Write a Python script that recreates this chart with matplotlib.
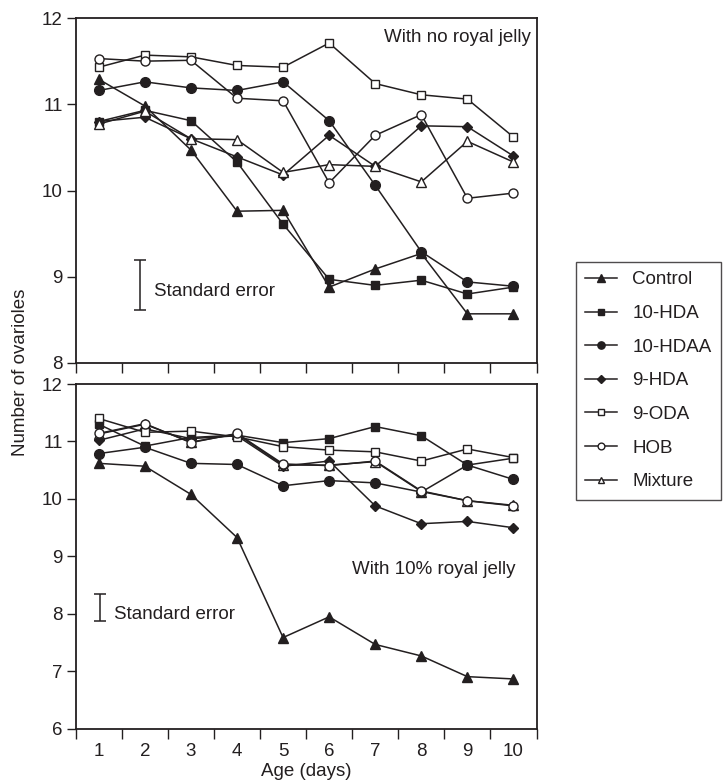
import numpy as np
import matplotlib.pyplot as plt
from matplotlib.ticker import MultipleLocator, FixedLocator, NullFormatter

plt.rcParams['font.family'] = ['Liberation Sans', 'DejaVu Sans']

INK = '#231f20'

# Step 1: Values
days = [1, 2, 3, 4, 5, 6, 7, 8, 9, 10]
treatments = ['Control', '10-HDA', '10-HDAA', '9-HDA', '9-ODA', 'HOB', 'Mixture']

# With no royal jelly (top panel)
control_nrj = [11.29, 10.98, 10.47, 9.76, 9.77, 8.88, 9.09, 9.27, 8.57, 8.57]
hda_nrj = [10.80, 10.93, 10.81, 10.33, 9.61, 8.97, 8.90, 8.96, 8.80, 8.88]
hdaa_nrj = [11.16, 11.26, 11.19, 11.16, 11.26, 10.81, 10.06, 9.29, 8.94, 8.89]
hda9_nrj = [10.80, 10.85, 10.60, 10.39, 10.18, 10.64, 10.28, 10.75, 10.74, 10.40]
oda_nrj = [11.43, 11.57, 11.55, 11.45, 11.43, 11.71, 11.24, 11.11, 11.06, 10.62]
hob_nrj = [11.53, 11.50, 11.51, 11.07, 11.04, 10.09, 10.64, 10.88, 9.91, 9.97]
mix_nrj = [10.77, 10.92, 10.60, 10.59, 10.21, 10.30, 10.28, 10.10, 10.57, 10.33]

# With 10% royal jelly (bottom panel)
control_rj = [10.62, 10.57, 10.08, 9.33, 7.59, 7.95, 7.47, 7.27, 6.91, 6.87]
hda_rj = [11.30, 10.92, 11.07, 11.11, 10.98, 11.05, 11.26, 11.10, 10.59, 10.71]
hdaa_rj = [10.79, 10.90, 10.62, 10.60, 10.23, 10.32, 10.28, 10.12, 10.59, 10.34]
hda9_rj = [11.02, 11.22, 11.05, 11.10, 10.57, 10.66, 9.88, 9.57, 9.61, 9.50]
oda_rj = [11.40, 11.16, 11.18, 11.08, 10.91, 10.85, 10.82, 10.66, 10.87, 10.72]
hob_rj = [11.14, 11.31, 10.98, 11.14, 10.61, 10.58, 10.66, 10.14, 9.97, 9.88]
mix_rj = [11.13, 11.30, 10.99, 11.13, 10.59, 10.59, 10.65, 10.13, 9.97, 9.89]

# Standard error bars: (x, low, high)
se_nrj = (1.9, 8.61, 9.20)
se_rj = (1.02, 7.88, 8.35)

# marker, filled?, size
styles = {
    'Control': ('^', True, 7),
    '10-HDA': ('s', True, 6),
    '10-HDAA': ('o', True, 7),
    '9-HDA': ('D', True, 5),
    '9-ODA': ('s', False, 6),
    'HOB': ('o', False, 6.5),
    'Mixture': ('^', False, 6.5),
}


# Step 2: Draw one panel
def draw_panel(ax, series, ylim, yticks, se, se_text_x, title, title_xy, zorders=None):
    for i, (name, vals) in enumerate(zip(treatments, series)):
        marker, filled, ms = styles[name]
        z = zorders[i] if zorders else 2 + i * 0.01
        ax.plot(days, vals, color=INK, lw=1.1, marker=marker, ms=ms,
                mfc=INK if filled else 'white', mec=INK, mew=1.0, label=name, zorder=z)

    ax.set_xlim(0.5, 10.5)
    ax.set_ylim(*ylim)
    ax.xaxis.set_major_locator(MultipleLocator(1, offset=0.5))
    ax.xaxis.set_major_formatter(NullFormatter())
    ax.set_yticks(yticks)
    ax.tick_params(axis='x', which='major', direction='out', length=7, width=1, color=INK)
    ax.tick_params(axis='y', direction='out', length=6.5, width=1, color=INK,
                   labelsize=13.5, pad=3, labelcolor=INK)
    for s in ax.spines.values():
        s.set_linewidth(1.3)
        s.set_color(INK)

    # Standard error marker
    x, lo, hi = se
    ax.errorbar([x], [(lo + hi) / 2], yerr=[[(hi - lo) / 2], [(hi - lo) / 2]],
                fmt='none', ecolor=INK, elinewidth=1.1, capsize=4, capthick=1.1)
    ax.text(se_text_x, (lo + hi) / 2 - 0.02 * (ylim[1] - ylim[0]), 'Standard error',
            fontsize=13.5, color=INK, va='center', ha='left')

    ax.text(title_xy[0], title_xy[1], title, fontsize=13.5, color=INK,
            ha='right', va='center')


fig = plt.figure(figsize=(7.26, 7.84), dpi=100)
ax_top = fig.add_axes([0.1043, 0.537, 0.6347, 0.440])
ax_bot = fig.add_axes([0.1043, 0.0702, 0.6347, 0.440])

draw_panel(ax_top,
           [control_nrj, hda_nrj, hdaa_nrj, hda9_nrj, oda_nrj, hob_nrj, mix_nrj],
           (8, 12), [8, 9, 10, 11, 12], se_nrj, 2.2,
           'With no royal jelly', (10.38, 11.78))
# in the lower panel the mixture line hides behind the HOB circles
draw_panel(ax_bot,
           [control_rj, hda_rj, hdaa_rj, hda9_rj, oda_rj, hob_rj, mix_rj],
           (6, 12), [6, 7, 8, 9, 10, 11, 12], se_rj, 1.32,
           'With 10% royal jelly', (10.05, 8.77),
           zorders=[2.1, 2.2, 2.15, 2.3, 2.4, 2.5, 2.05])

# Day labels only on the bottom panel, sitting between the ticks
ax_bot.xaxis.set_minor_locator(FixedLocator(days))
ax_bot.set_xticks(days, [str(d) for d in days], minor=True)
ax_bot.tick_params(axis='x', which='minor', length=0, labelsize=13.5, pad=10, labelcolor=INK)

ax_bot.set_xlabel('Age (days)', fontsize=13.5, color=INK, labelpad=2.5)
fig.text(0.028, 0.525, 'Number of ovarioles', rotation=90, fontsize=13.5,
         color=INK, ha='center', va='center')

# Step 3: Legend box on the right
handles = []
for name in treatments:
    marker, filled, ms = styles[name]
    h, = plt.plot([], [], color=INK, lw=1.1, marker=marker, ms=ms * 0.75,
                  mfc=INK if filled else 'white', mec=INK, mew=1.0)
    handles.append(h)
leg = fig.legend(handles, treatments, loc='upper left',
                 bbox_to_anchor=(576 / 726, 1 - 262 / 784),
                 fontsize=13.5, frameon=True, fancybox=False, edgecolor=INK,
                 handlelength=1.7, handletextpad=0.8, labelspacing=0.88,
                 borderpad=0.5, borderaxespad=0)
leg.get_frame().set_linewidth(1.0)
for t in leg.get_texts():
    t.set_color(INK)

fig.savefig('out.png', dpi=100)
